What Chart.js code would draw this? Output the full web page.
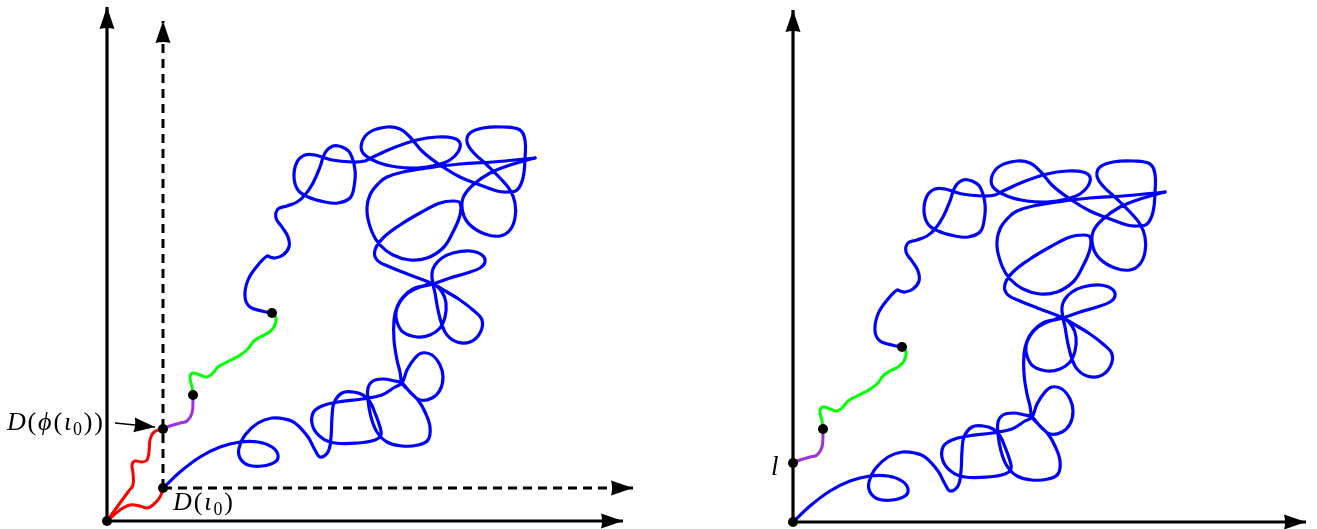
<!DOCTYPE html>
<html>
<head>
<meta charset="utf-8">
<script src="https://cdn.jsdelivr.net/npm/chart.js@4/dist/chart.umd.min.js"></script>
<style>
html,body{margin:0;padding:0;background:#fff;}
canvas{display:block;}
</style>
</head>
<body>
<canvas id="c" width="1317" height="529"></canvas>
<script>
// Diagram units: pixels, origin at the left panel's origin, y pointing up.
const leftOrigin = [0, 0];
const D_iota0 = [56, 33];          // D(ι0)
const D_phi = [56, 92];            // D(ϕ(ι0))
const purpleEnd = [86, 126];
const greenEnd = [165, 208];
const rightOrigin = [686, -1];     // origin of right panel (= shifted D(ι0))

const axisLen = { leftX: 516, leftY: 514, dashX: 526, dashY: 500, rightX: 1199, rightY: 511 };

const redToPhi = [[0,0],[13,18],[21,29],[26,36],[26,48],[25,56],[28,60],[35,59],[40,61],[42,69],[43,81],[46,88],[51,91],[56,92]];
const redToIota = [[0,0],[13,11],[23,16],[33,15],[40,13],[46,16],[53,24],[56,33]];
const purplePath = [[56,92],[63,95],[73,98],[80,100],[85,108],[86,121],[86,126]];
const greenPath = [[86,126],[85,134],[83,144],[86,148],[93,146],[100,144],[106,148],[111,154],[120,159],[130,164],[140,171],[146,179],[153,184],[161,188],[167,194],[169,203],[165,208]];

// blue walk, from the green end to the far tip
const blueToTip = [[165,208],[155,210],[143,214],[138,224],[141,241],[151,256],[160,265],[163,264],[168,263],[176,266],[182,274],[181,284],[175,294],[169,303],[171,312],[180,315],[190,319],[198,326],[206,338],[213,354],[218,368],[226,375],[235,374],[243,368],[248,351],[247,334],[243,323],[231,318],[218,319],[201,324],[191,331],[187,344],[190,359],[198,366],[208,366],[225,361],[245,359],[258,360],[266,364],[286,373],[310,381],[330,384],[346,383],[353,378],[351,369],[343,361],[330,356],[310,353],[290,354],[270,359],[256,368],[255,379],[263,389],[280,394],[293,392],[303,384],[316,369],[333,356],[353,344],[373,336],[390,330],[400,329],[410,331],[416,343],[418,363],[418,381],[413,391],[396,394],[376,393],[363,388],[360,379],[366,369],[380,356],[393,343],[403,331],[408,318],[408,303],[403,291],[393,285],[378,287],[363,296],[356,308],[356,323],[366,336],[383,348],[403,356],[428,363]];

// blue walk, from the tip back down to D(ι0)
const blueFromTip = [[428,363],[386,359],[353,357],[320,353],[296,349],[280,344],[273,339],[263,326],[260,309],[265,289],[273,276],[286,266],[303,261],[320,263],[336,273],[346,289],[353,306],[353,318],[346,320],[333,318],[313,308],[293,296],[276,283],[268,271],[270,261],[283,254],[303,246],[326,237],
[340,229],[353,221],[366,211],[375,201],[373,188],[363,179],[350,179],[340,186],[335,196],[331,211],[328,228],[326,237],
[325,248],[328,256],[335,263],[346,268],[363,270],[375,266],[378,259],[373,253],[360,248],[343,243],[326,237],
[313,234],[301,228],[293,219],[289,209],[290,199],[296,189],[310,184],[323,186],[333,193],[338,204],[339,218],[335,229],[326,237],
[316,235],[306,232],[296,224],[290,214],[287,201],[287,181],[290,161],[293,149],[295,138],
[301,131],[311,121],[318,109],[323,94],[321,81],[311,76],[295,75],[280,79],[270,89],[264,104],[261,121],[261,133],[266,140],[276,142],[288,140],[295,138],
[303,129],[313,121],[325,123],[333,131],[336,144],[333,156],[325,166],[315,168],[308,163],[300,151],[295,138],
[288,134],[275,126],[255,122],[231,119],[215,115],[206,108],[206,94],[215,83],[228,78],[251,78],[268,81],[274,86],[273,94],[268,108],[263,119],[256,126],[246,129],[235,128],[227,118],[225,104],[224,84],[221,69],[213,64],[208,71],[201,84],[188,98],[178,102],[165,103],[151,98],[138,86],[132,73],[133,63],[141,56],[155,55],[168,59],[171,66],[165,74],[151,79],[133,79],[113,74],[93,64],[73,49],[56,33]];

const pointerLine = [[8,98],[48,94]];

const labelPhi = [['D','i'],['(','n'],['ϕ','i'],['(','n'],['ι','i'],['0','s'],[')','n'],[')','n']];
const labelIota = [['D','i'],['(','n'],['ι','i'],['0','s'],[')','n']];
const labelL = [['l','i']];

// ---- helpers ----
const shift = [rightOrigin[0]-D_iota0[0], rightOrigin[1]-D_iota0[1]];
const pts = (arr, d=[0,0]) => arr.map(p => ({x: p[0]+d[0], y: p[1]+d[1]}));
const BLACK = '#000000', BLUE = '#0000ff', RED = '#ff0000', GREEN = '#00ff00', PURPLE = '#9933dd';

function lineDS(data, color, width, order, extra={}) {
  return Object.assign({ data, showLine: true, borderColor: color, backgroundColor: color,
    borderWidth: width, pointRadius: 0, tension: 0.4, fill: false, clip: false, order,
    borderCapStyle: 'round', borderJoinStyle: 'round' }, extra);
}
const axisHead = { length: 22, width: 15 };
const axisOpts = h => ({tension:0, borderCapStyle:'butt', arrowHead: h});

const datasets = [
  // left axes
  lineDS(pts([leftOrigin, [leftOrigin[0], axisLen.leftY]]), BLACK, 3.2, 10, axisOpts(axisHead)),
  lineDS(pts([leftOrigin, [axisLen.leftX, leftOrigin[1]]]), BLACK, 3.2, 10, axisOpts(axisHead)),
  lineDS(pts([D_iota0, [D_iota0[0], axisLen.dashY]]), BLACK, 3, 10, Object.assign(axisOpts(axisHead), {borderDash:[9,6]})),
  lineDS(pts([D_iota0, [axisLen.dashX, D_iota0[1]]]), BLACK, 3, 10, Object.assign(axisOpts(axisHead), {borderDash:[9,6]})),
  lineDS(pts(pointerLine), BLACK, 1.3, 10, axisOpts({length: 21, width: 15})),
  // right axes
  lineDS(pts([rightOrigin, [rightOrigin[0], axisLen.rightY]]), BLACK, 3.2, 10, axisOpts(axisHead)),
  lineDS(pts([rightOrigin, [axisLen.rightX, rightOrigin[1]]]), BLACK, 3.2, 10, axisOpts(axisHead)),
  // left panel paths
  lineDS(pts(redToPhi), RED, 3, 5),
  lineDS(pts(redToIota), RED, 3, 5),
  lineDS(pts(purplePath), PURPLE, 3, 5),
  lineDS(pts(greenPath), GREEN, 3, 5),
  lineDS(pts(blueToTip), BLUE, 3.2, 5),
  lineDS(pts(blueFromTip), BLUE, 3.2, 5),
  // right panel paths (same process, restarted at D(ι0))
  lineDS(pts(purplePath, shift), PURPLE, 3, 5),
  lineDS(pts(greenPath, shift), GREEN, 3, 5),
  lineDS(pts(blueToTip, shift), BLUE, 3.2, 5),
  lineDS(pts(blueFromTip, shift), BLUE, 3.2, 5),
  // dots (drawn on top)
  { data: pts([leftOrigin, D_iota0, D_phi, purpleEnd, greenEnd]), showLine:false, pointRadius:5, pointBackgroundColor:BLACK, pointBorderColor:BLACK, pointBorderWidth:0, clip:false, order: 0 },
  { data: pts([D_iota0, D_phi, purpleEnd, greenEnd], shift), showLine:false, pointRadius:5, pointBackgroundColor:BLACK, pointBorderColor:BLACK, pointBorderWidth:0, clip:false, order: 0 }
];

const labels = [
  { parts: labelPhi, at: [-100, 91], size: 26, width: 96 },
  { parts: labelIota, at: [66, 11], size: 26, width: 60 },
  { parts: labelL, at: [664, 46], size: 27 }
];

const arrowPlugin = {
  id: 'arrowHeads',
  afterDatasetsDraw(chart) {
    const ctx = chart.ctx;
    chart.data.datasets.forEach((ds, i) => {
      if (!ds.arrowHead) return;
      const el = chart.getDatasetMeta(i).data;
      const a = el[el.length-2], b = el[el.length-1];
      const dx = b.x-a.x, dy = b.y-a.y, len = Math.hypot(dx, dy);
      const ux = dx/len, uy = dy/len;
      const L = ds.arrowHead.length, W = ds.arrowHead.width;
      const bx = b.x-ux*L, by = b.y-uy*L;
      ctx.save();
      ctx.fillStyle = ds.borderColor;
      ctx.beginPath();
      ctx.moveTo(b.x, b.y);
      ctx.lineTo(bx - uy*W/2, by + ux*W/2);
      ctx.quadraticCurveTo(bx + ux*L*0.1, by + uy*L*0.1, bx + uy*W/2, by - ux*W/2);
      ctx.closePath();
      ctx.fill();
      ctx.restore();
    });
  }
};

const FONT = '"Liberation Serif", "DejaVu Serif", serif';
const labelPlugin = {
  id: 'mathLabels',
  afterDraw(chart) {
    const ctx = chart.ctx, sx = chart.scales.x, sy = chart.scales.y;
    labels.forEach(lb => {
      const s = lb.size;
      const fontOf = t => t === 'i' ? `italic ${s}px ${FONT}` : t === 's' ? `${Math.round(s*0.7)}px ${FONT}` : `${s}px ${FONT}`;
      ctx.save();
      ctx.fillStyle = '#000';
      ctx.textBaseline = 'alphabetic';
      const widths = lb.parts.map(([txt, t]) => { ctx.font = fontOf(t); return ctx.measureText(txt).width; });
      const total = widths.reduce((p, c) => p + c, 0);
      const gap = (lb.width && lb.parts.length > 1) ? (lb.width - total)/(lb.parts.length-1) : 0;
      let x = sx.getPixelForValue(lb.at[0]);
      const base = sy.getPixelForValue(lb.at[1]);
      lb.parts.forEach(([txt, t], k) => {
        ctx.font = fontOf(t);
        ctx.fillText(txt, x, t === 's' ? base + s*0.2 : base);
        x += widths[k] + gap;
      });
      ctx.restore();
    });
  }
};

new Chart(document.getElementById('c'), {
  type: 'scatter',
  data: { datasets },
  options: {
    responsive: false,
    animation: false,
    devicePixelRatio: 1,
    layout: { padding: 0, autoPadding: false },
    plugins: { legend: { display: false }, tooltip: { enabled: false } },
    events: [],
    scales: {
      x: { type: 'linear', min: -107, max: 1210, display: false },
      y: { type: 'linear', min: -8, max: 521, display: false }
    }
  },
  plugins: [arrowPlugin, labelPlugin]
});
</script>
</body>
</html>
